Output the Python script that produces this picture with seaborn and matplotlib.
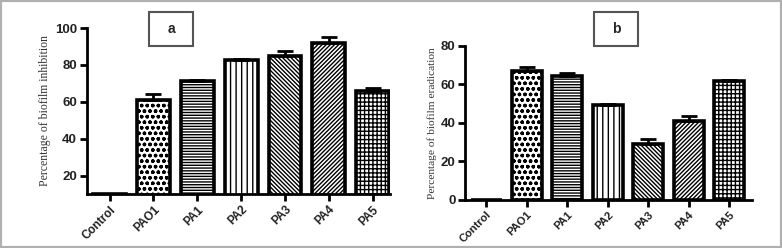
import numpy as np
import pandas as pd
import matplotlib
matplotlib.use("Agg")
import matplotlib.pyplot as plt
from matplotlib.patches import Rectangle
import seaborn as sns

# Datos
strains = ["Control", "PAO1", "PA1", "PA2", "PA3", "PA4", "PA5"]
inhibition = [10, 61, 71, 82.5, 85, 92, 66]
inhibition_err = [0, 3, 0.8, 0.5, 2.5, 3, 1.2]
eradication = [0, 67, 64.5, 49.5, 29, 41, 62]
eradication_err = [0, 2, 1.5, 0.3, 2.5, 2.5, 0.3]
hatches = ["", "ooo", "------", "|||", "\\\\\\\\\\\\\\\\", "////////", "++++"]

sns.set_theme(style="white")
plt.rcParams["hatch.linewidth"] = 1.0
plt.rcParams["font.family"] = ["Liberation Sans", "DejaVu Sans"]

fig = plt.figure(figsize=(7.82, 2.48), dpi=100)
ax_a = fig.add_axes([0.111, 0.218, 0.388, 0.669])
ax_b = fig.add_axes([0.595, 0.194, 0.367, 0.621])


def draw_panel(ax, values, errs, ylim, yticks, ylabel, xlim, ylab_size, xt_size):
    df = pd.DataFrame({"strain": strains, "value": values})
    sns.barplot(data=df, x="strain", y="value", color="white", edgecolor="black",
                linewidth=2.6, width=0.75, saturation=1, ax=ax)
    for patch, h in zip(ax.patches, hatches):
        patch.set_hatch(h)
        patch.set_facecolor("white")
    ax.errorbar(np.arange(len(strains)), values, yerr=[np.zeros(len(errs)), errs],
                fmt="none", ecolor="black", elinewidth=2, capsize=6, capthick=2)
    ax.set_ylim(*ylim)
    ax.set_xlim(*xlim)
    ax.set_yticks(yticks)
    ax.set_xlabel("")
    ax.set_ylabel(ylabel, family="Liberation Serif", fontsize=ylab_size, color="#333333",
                  labelpad=3)
    sns.despine(ax=ax)
    for side in ["left", "bottom"]:
        ax.spines[side].set_linewidth(2)
        ax.spines[side].set_color("black")
    ax.tick_params(axis="both", direction="out", length=5, width=2, color="black",
                   labelsize=9.5, bottom=True, left=True, pad=2)
    for lab in ax.get_yticklabels():
        lab.set_fontweight("bold")
        lab.set_color("#222222")
    ax.set_xticks(range(len(strains)))
    ax.set_xticklabels(strains, rotation=45, ha="right", rotation_mode="anchor",
                       fontweight="bold", fontsize=xt_size, color="#222222")


draw_panel(ax_a, inhibition, inhibition_err, (10, 100), [20, 40, 60, 80, 100],
           "Percentage of biofilm inhibition", (-0.52, 6.4), 8.5, 8.5)
draw_panel(ax_b, eradication, eradication_err, (0, 80), [0, 20, 40, 60, 80],
           "Percentage of biofilm eradication", (-0.52, 6.57), 8.2, 8)

# Etiquetas de panel
for x0, y0, txt in [(149, 12, "a"), (594, 12, "b")]:
    fig.add_artist(Rectangle((x0 / 782, 1 - (y0 + 34) / 248), 44 / 782, 34 / 248,
                             transform=fig.transFigure, fill=False,
                             edgecolor="#555555", linewidth=1.5))
    fig.text((x0 + 22) / 782, 1 - (y0 + 17) / 248, txt, ha="center", va="center",
             fontsize=10, fontweight="bold")

# Marco exterior
fig.add_artist(Rectangle((0, 0), 1, 1, transform=fig.transFigure, fill=False,
                         edgecolor="#b0b0b0", linewidth=3))

fig.savefig("out.png", dpi=100)
